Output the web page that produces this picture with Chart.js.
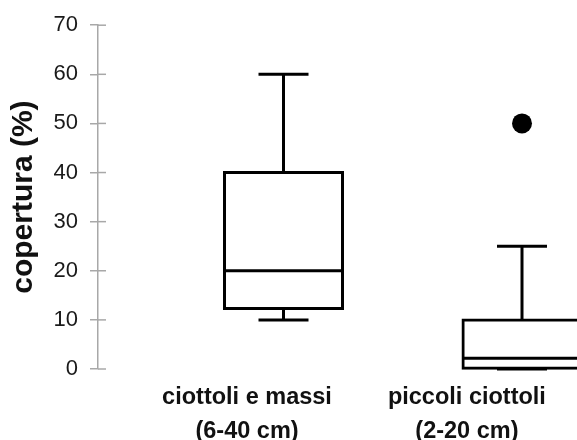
<!DOCTYPE html>
<html>
<head>
<meta charset="utf-8">
<script src="https://cdn.jsdelivr.net/npm/chart.js@4"></script>
<style>
  html, body { margin: 0; padding: 0; background: #fff; overflow: hidden; }
  canvas { display: block; }
</style>
</head>
<body>
<canvas id="c" width="577" height="440"></canvas>
<script>
// ---- data ----
const categories = [['ciottoli e massi', '(6-40 cm)'], ['piccoli ciottoli', '(2-20 cm)']];
const whiskerMin = [10, 0];
const q1 = [12.3, 0];
const median = [20, 2.2];
const q3 = [40, 10];
const whiskerMax = [60, 25];
const outliers = [[], [50]];
const yTicks = [0, 10, 20, 30, 40, 50, 60, 70];

// ---- layout constants ----
const X_MIN = 0.2222, X_MAX = 2.2306;
const LABEL_POS = [0.847, 1.769];
const FONT = "'Liberation Sans', Arial, Helvetica, sans-serif";
const INK = '#000';
const AXIS = '#a8a8a8';

const xs = categories.map((_, i) => i + 1);

const datasets = [];
datasets.push({
  type: 'bar',
  label: 'box',
  data: xs.map((x, i) => ({ x: x, y: [q1[i], q3[i]] })),
  backgroundColor: '#fff',
  borderColor: INK,
  borderWidth: 3,
  borderSkipped: false,
  inflateAmount: 1.5,
  barThickness: 118,
  clip: false,
  order: 5
});
xs.forEach((x, i) => {
  datasets.push({
    type: 'line', label: 'upper' + i,
    data: [{ x: x, y: q3[i] }, { x: x, y: whiskerMax[i] }],
    borderColor: INK, borderWidth: 3, pointRadius: 0, clip: false, order: 4
  });
  datasets.push({
    type: 'line', label: 'lower' + i,
    data: [{ x: x, y: whiskerMin[i] }, { x: x, y: q1[i] }],
    borderColor: INK, borderWidth: 3, pointRadius: 0, clip: false, order: 4
  });
});
datasets.push({
  type: 'scatter', label: 'caps',
  data: xs.flatMap((x, i) => [{ x: x, y: whiskerMin[i] }, { x: x, y: whiskerMax[i] }]),
  pointStyle: 'line', pointRadius: 25, borderColor: INK, pointBorderWidth: 3, borderWidth: 3, clip: false, order: 3
});
datasets.push({
  type: 'scatter', label: 'median',
  data: xs.map((x, i) => ({ x: x, y: median[i] })),
  pointStyle: 'line', pointRadius: 59, borderColor: INK, pointBorderWidth: 3, borderWidth: 3, clip: false, order: 2
});
datasets.push({
  type: 'scatter', label: 'outliers',
  data: xs.flatMap((x, i) => outliers[i].map(v => ({ x: x, y: v }))),
  pointStyle: 'circle', pointRadius: 10, backgroundColor: INK, borderColor: INK, borderWidth: 0, clip: false, order: 1
});

const innerTicks = {
  id: 'innerTicks',
  afterDraw(chart) {
    const y = chart.scales.y;
    const ctx = chart.ctx;
    const left = chart.chartArea.left;
    ctx.save();
    ctx.strokeStyle = AXIS;
    ctx.lineWidth = 1.5;
    y.ticks.forEach((t, i) => {
      const py = y.getPixelForTick(i);
      ctx.beginPath();
      ctx.moveTo(left, py);
      ctx.lineTo(left + 8, py);
      ctx.stroke();
    });
    ctx.restore();
  }
};

new Chart(document.getElementById('c'), {
  type: 'bar',
  data: { datasets: datasets },
  plugins: [innerTicks],
  options: {
    responsive: false,
    animation: false,
    devicePixelRatio: 1,
    layout: { autoPadding: false, padding: { top: 23, right: 0, left: 0, bottom: 0 } },
    plugins: { legend: { display: false }, tooltip: { enabled: false } },
    scales: {
      x: {
        type: 'linear', min: X_MIN, max: X_MAX, display: false, offset: false
      },
      x2: {
        type: 'linear', position: 'bottom', min: X_MIN, max: X_MAX, offset: false,
        afterBuildTicks: (s) => { s.ticks = LABEL_POS.map(v => ({ value: v })); },
        afterFit: (s) => { s.height = 71; },
        grid: { display: false, offset: false },
        border: { display: false },
        ticks: {
          autoSkip: false, maxRotation: 0,
          callback: (v, i) => categories[i],
          color: '#111',
          font: { family: FONT, size: 23.5, weight: 'bold', lineHeight: 1.45 },
          padding: 3
        }
      },
      y: {
        type: 'linear', min: 0, max: 70,
        afterBuildTicks: (s) => { s.ticks = yTicks.map(v => ({ value: v })); },
        afterFit: (s) => { s.width = 98; },
        grid: { display: true, drawOnChartArea: false, drawTicks: true, tickLength: 8, color: AXIS, lineWidth: 1.5 },
        border: { display: true, color: AXIS, width: 1.5 },
        ticks: {
          color: '#1a1a1a',
          font: { family: FONT, size: 22 },
          padding: 12
        },
        title: {
          display: true, text: 'copertura (%)', color: '#111',
          font: { family: FONT, size: 30, weight: 'bold' },
          padding: { top: 6, bottom: 0 }
        }
      }
    }
  }
});
</script>
</body>
</html>
